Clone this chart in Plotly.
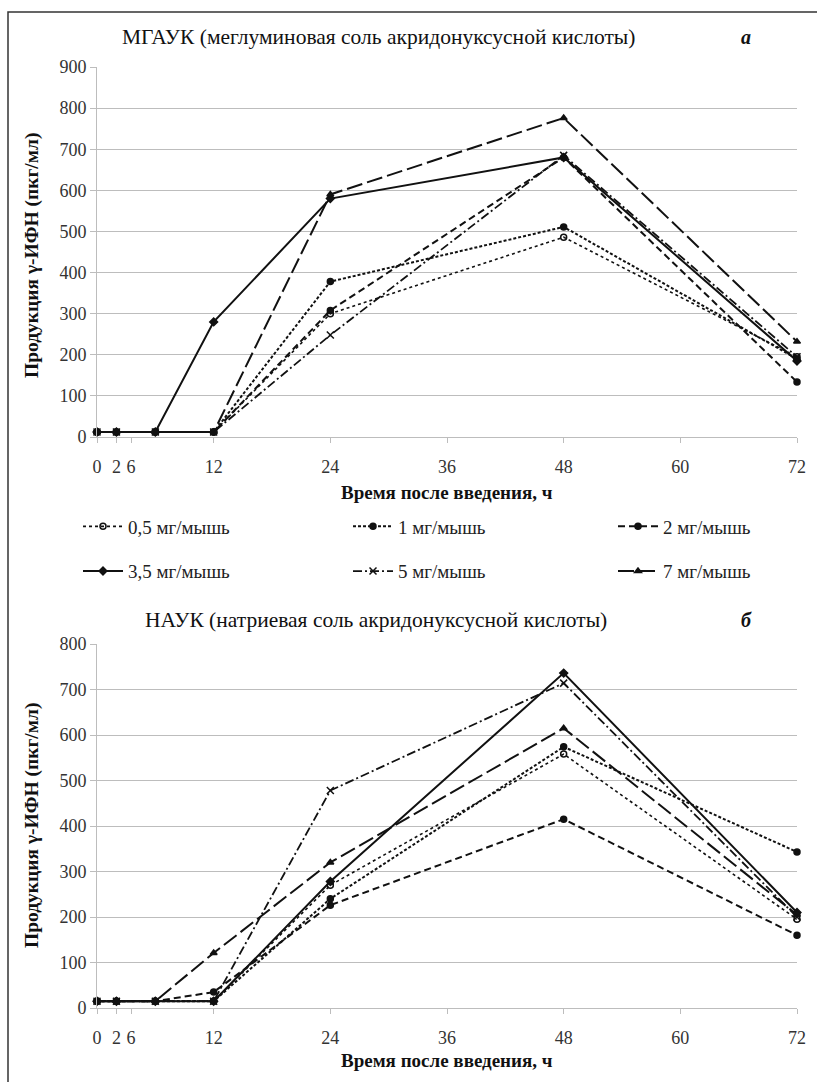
import plotly.graph_objects as go

# Sampling times, hours after administration
hours = [0, 2, 6, 12, 24, 48, 72]

# Dose groups
doses = ["0,5 мг/мышь", "1 мг/мышь", "2 мг/мышь", "3,5 мг/мышь", "5 мг/мышь", "7 мг/мышь"]

# γ-IFN production, pg/ml — MGAUK (panel а)
mgauk_05 = [12, 12, 12, 12, 300, 486, 195]
mgauk_1 = [12, 12, 12, 12, 378, 511, 190]
mgauk_2 = [12, 12, 12, 12, 308, 680, 134]
mgauk_35 = [12, 12, 12, 280, 580, 680, 185]
mgauk_5 = [12, 12, 12, 12, 248, 685, 195]
mgauk_7 = [12, 12, 12, 12, 590, 776, 232]

# γ-IFN production, pg/ml — NAUK (panel б)
nauk_05 = [15, 15, 15, 15, 270, 558, 195]
nauk_1 = [15, 15, 15, 15, 240, 574, 343]
nauk_2 = [15, 15, 15, 35, 226, 415, 160]
nauk_35 = [15, 15, 15, 15, 278, 736, 210]
nauk_5 = [15, 15, 15, 15, 478, 714, 200]
nauk_7 = [15, 15, 15, 121, 320, 615, 205]

# x tick labels ("6" sits next to "2" on the original axis)
x_tickvals = [0, 2, 3.5, 12, 24, 36, 48, 60, 72]
x_ticktext = ["0", "2", "6", "12", "24", "36", "48", "60", "72"]

SERIF = "Liberation Serif, Times New Roman, serif"
INK = "#111111"

styles = [
    dict(dash="dot", width=1.6, symbol="circle-open", size=6),
    dict(dash="3px,2px", width=2.0, symbol="circle", size=6),
    dict(dash="7px,4px", width=2.0, symbol="circle", size=6),
    dict(dash="solid", width=2.0, symbol="diamond", size=6),
    dict(dash="9px,3px,2px,3px", width=1.8, symbol="x-thin-open", size=7),
    dict(dash="16px,5px", width=2.0, symbol="triangle-up", size=6),
]
# legend laid out as three columns of two entries
legend_ids = ["legend", "legend2", "legend3", "legend", "legend2", "legend3"]

panels = [
    ([mgauk_05, mgauk_1, mgauk_2, mgauk_35, mgauk_5, mgauk_7], "x", "y"),
    ([nauk_05, nauk_1, nauk_2, nauk_35, nauk_5, nauk_7], "x2", "y2"),
]

fig = go.Figure()
for p, (series, xa, ya) in enumerate(panels):
    for i, (name, vals, st) in enumerate(zip(doses, series, styles)):
        fig.add_trace(go.Scatter(
            x=hours, y=vals, name=name, xaxis=xa, yaxis=ya,
            mode="lines+markers",
            line=dict(color=INK, width=st["width"], dash=st["dash"]),
            marker=dict(symbol=st["symbol"], size=st["size"], color=INK,
                        line=dict(color=INK, width=1.5)),
            cliponaxis=False,
            showlegend=(p == 0),
            legend=legend_ids[i],
            legendgroup=name,
        ))

W, H = 817, 1082
def px_x(v):
    return v / W
def px_y(v):
    return 1 - v / H

x_dom = [px_x(97), px_x(797)]
grid = "#bdbdbd"
tick_font = dict(family=SERIF, size=18, color="#333333")

xaxis_common = dict(
    range=[0, 72], tickmode="array", tickvals=x_tickvals, ticktext=x_ticktext,
    showgrid=False, zeroline=False, showline=True, linecolor=grid, linewidth=1,
    ticks="outside", ticklen=5, tickcolor=grid, tickfont=tick_font,
    ticklabelstandoff=8,
)
yaxis_common = dict(
    showgrid=True, gridcolor=grid, gridwidth=1, zeroline=False,
    showline=True, linecolor=grid, linewidth=1,
    ticks="outside", ticklen=6, tickcolor=grid, tickfont=tick_font,
)

legend_common = dict(
    orientation="v", xanchor="left", yanchor="middle",
    tracegroupgap=17, y=px_y(549),
    font=dict(family=SERIF, size=19, color="#222222"),
    bgcolor="rgba(0,0,0,0)", itemwidth=40,
)

fig.update_layout(
    width=W, height=H,
    margin=dict(l=0, r=0, t=0, b=0, autoexpand=False),
    paper_bgcolor="white", plot_bgcolor="white",
    font=dict(family=SERIF, color=INK),
    xaxis=dict(domain=x_dom, anchor="y", **xaxis_common),
    yaxis=dict(domain=[px_y(437), px_y(67)], range=[0, 900], dtick=100,
               anchor="x", **yaxis_common),
    xaxis2=dict(domain=x_dom, anchor="y2", **xaxis_common),
    yaxis2=dict(domain=[px_y(1008), px_y(644)], range=[0, 800], dtick=100,
                anchor="x2", **yaxis_common),
    legend=dict(x=px_x(78), **legend_common),
    legend2=dict(x=px_x(348), **legend_common),
    legend3=dict(x=px_x(613), **legend_common),
    showlegend=True,
)

ann = []
# panel titles and letters
ann.append(dict(text="МГАУК (меглуминовая соль акридонуксусной кислоты)",
                x=px_x(378), y=px_y(37), font=dict(size=21.5, family=SERIF, color=INK)))
ann.append(dict(text="<b><i>а</i></b>", x=px_x(746), y=px_y(37),
                font=dict(size=20, family=SERIF, color=INK)))
ann.append(dict(text="НАУК (натриевая соль акридонуксусной кислоты)",
                x=px_x(376), y=px_y(620), font=dict(size=21.5, family=SERIF, color=INK)))
ann.append(dict(text="<b><i>б</i></b>", x=px_x(746), y=px_y(620),
                font=dict(size=20, family=SERIF, color=INK)))
# axis titles
for yc in (256, 826):
    ann.append(dict(text="<b>Продукция γ-ИФН (пкг/мл)</b>", x=px_x(32), y=px_y(yc),
                    textangle=-90, font=dict(size=19.5, family=SERIF, color=INK)))
for yc in (492, 1060):
    ann.append(dict(text="<b>Время после введения, ч</b>", x=px_x(447), y=px_y(yc),
                    font=dict(size=19, family=SERIF, color=INK)))
for a in ann:
    a.update(xref="paper", yref="paper", showarrow=False, xanchor="center", yanchor="middle")
fig.update_layout(annotations=ann)

# outer frame
fig.add_shape(type="rect", xref="paper", yref="paper",
              x0=px_x(8), x1=1.02, y0=-0.02, y1=px_y(12),
              line=dict(color="#333333", width=1.5), layer="above")

fig.write_html("out.html")
